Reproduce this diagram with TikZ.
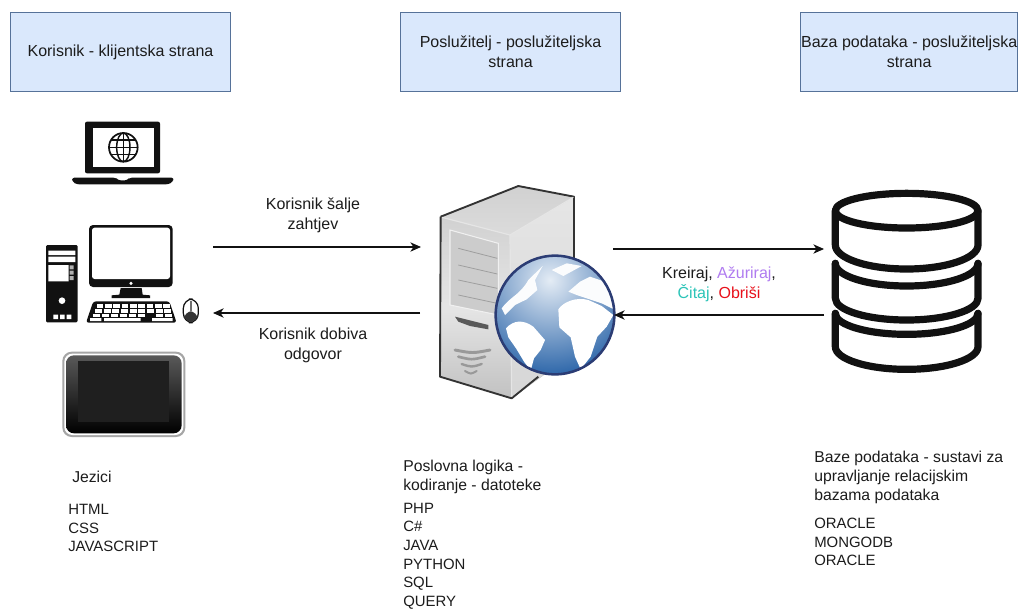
\documentclass[tikz,border=0pt]{standalone}
\usepackage{fontspec}
\setmainfont{Liberation Sans}
\usetikzlibrary{arrows.meta,shapes.geometric}
\definecolor{boxfill}{HTML}{DAE8FC}
\definecolor{boxline}{HTML}{6C8EBF}
\definecolor{txt}{HTML}{1C1C1C}
\definecolor{ink}{HTML}{111111}
\definecolor{kpurple}{HTML}{B07CF0}
\definecolor{kteal}{HTML}{2CC4B8}
\definecolor{kred}{HTML}{E8101A}
\definecolor{globelight}{HTML}{E4ECF5}
\definecolor{globedark}{HTML}{2A64A8}
\definecolor{globerim}{HTML}{2B3C74}
\tikzset{
  header/.style={draw=boxline!80!black,fill=boxfill,line width=.75pt,minimum width=165pt,minimum height=59.5pt,inner sep=0pt,align=center,text=txt,font=\fontsize{12}{15}\selectfont,anchor=north west},
  label/.style={align=center,text=txt,font=\fontsize{12}{15}\selectfont,inner sep=0pt},
  listing/.style={align=left,text=txt,font=\fontsize{11.8}{14.3}\selectfont,inner sep=0pt,anchor=west},
  capslist/.style={align=left,text=txt,font=\fontsize{11.2}{14}\selectfont,inner sep=0pt,anchor=west},
  flow/.style={draw=ink,line width=.85pt,-{Stealth[length=8pt,width=7pt,inset=2.4pt]}},
  dbline/.style={draw=ink,line width=5.4pt,line cap=round,line join=round},
  wpx/.style={x=.25pt,y=-.25pt}
}
\begin{document}
\begin{tikzpicture}[x=.75pt,y=-.75pt]
\useasboundingbox (0,0) rectangle (1021,608);
\fill[white] (0,0) rectangle (1021,608);
% headers
\node[header] (h1) at (10,12) {Korisnik - klijentska strana};
\node[header] (h2) at (400,12) {Poslužitelj - poslužiteljska\\strana};
\node[header,minimum width=163pt] (h3) at (800,12) {Baza podataka - poslužiteljska\\strana};

% laptop (reference zoom coordinates)
\begin{scope}[shift={(30,110)},wpx]
 \fill[ink,rounded corners=1.5pt] (165,35) rectangle (390,190);
 \fill[white] (188,55) rectangle (372,170);
 \draw[ink,line width=1.3pt] (280,112) circle[radius=43];
 \draw[ink,line width=1.1pt] (280,112) ellipse[x radius=20,y radius=43];
 \draw[ink,line width=1.1pt] (237,112) -- (323,112) (243,90) -- (317,90) (243,134) -- (317,134) (280,69) -- (280,155);
 \fill[ink,rounded corners=2pt] (125,203) -- (258,203) -- (264,211) -- (292,211) -- (298,203) -- (432,203) -- (428,216) -- (415,223) -- (140,223) -- (128,216) -- cycle;
 % monitor
 \fill[ink,rounded corners=3pt] (177,345) rectangle (428,531);
 \fill[white,rounded corners=2pt] (186,353) rectangle (420,507);
 \fill[white] (303,520) circle[radius=5];
 \fill[ink] (272,534) -- (335,534) -- (338,554) -- (360,556) -- (360,564) -- (245,564) -- (245,556) -- (268,554) -- cycle;
 % tower
 \fill[ink,rounded corners=1pt] (48,405) rectangle (143,637);
 \fill[white] (55,422) rectangle (136,435) (55,440) rectangle (136,456) (55,465) rectangle (116,514);
 \fill[white!70!black] (119,466) rectangle (131,478) (119,482) rectangle (131,494) (119,498) rectangle (131,510);
 \fill[white] (96,572) circle[radius=10];
 \fill[white] (70,614) rectangle (84,627) (90,614) rectangle (104,627) (110,614) rectangle (124,627);
 % keyboard
 \fill[ink,rounded corners=2pt] (190,574) -- (418,574) -- (440,638) -- (168,638) -- cycle;
 \foreach \xa in {0,...,8}{\fill[white] ({200+\xa*25},581) rectangle ++(20,12);}
 \foreach \xa in {0,...,8}{\fill[white] ({195+\xa*26},598) rectangle ++(21,10);}
 \foreach \xa in {0,...,8}{\ifnum\xa=6 \else\fill[white] ({188+\xa*27},612) rectangle ++(22,8);\fi}
 \fill[white] (180,624) rectangle (214,633) (222,624) rectangle (332,633) (366,624) rectangle (428,633);
 % mouse
 \fill[white,draw=ink,line width=.9pt,rounded corners=7pt] (460,567) rectangle (505,638);
 \fill[ink!85,rounded corners=6pt] (462,604) -- (503,604) -- (503,636) -- (462,636) -- cycle;
 \fill[ink!60] (479,574) rectangle (486,604);
 % tablet
 \fill[white!65!black,rounded corners=7pt] (97,725) rectangle (466,981);
 \fill[white,rounded corners=6pt] (103,731) rectangle (460,975);
 \shade[top color=black!65,bottom color=black,rounded corners=6pt] (108,736) rectangle (455,970);
 \fill[black!88] (145,752) rectangle (417,937);
\end{scope}

% server
\begin{scope}[shift={(420,180)},wpx]
 \fill[black!22] (62,110) -- (295,18) -- (462,50) -- (462,520) -- (275,655) -- (60,590) -- cycle;
 \shade[top color=black!10,bottom color=black!16] (270,165) -- (462,52) -- (462,520) -- (275,652) -- cycle;
 \shade[top color=black!18,bottom color=black!14] (65,112) -- (295,22) -- (458,52) -- (270,165) -- cycle;
 \shade[top color=black!18,bottom color=black!24,middle color=black!10] (65,112) -- (270,165) -- (275,652) -- (62,588) -- cycle;
 \draw[black!80,line width=1.4pt,line join=round] (62,110) -- (295,18) -- (462,50) -- (462,300) (355,590) -- (275,655) -- (60,590) -- (62,110);
 \draw[white!90!black,line width=.9pt] (66,112) -- (270,165) -- (275,650) (270,165) -- (460,52);
 \fill[black!20] (90,150) -- (235,190) -- (235,405) -- (90,375) -- cycle;
 \draw[black!6,line width=.8pt] (90,150) -- (235,190) -- (235,405) -- (90,375) -- cycle;
 \draw[black!38,line width=.6pt] (115,205) -- (232,235) (115,255) -- (232,282) (115,300) -- (232,325) (115,345) -- (232,370);
 \fill[black!65] (105,410) -- (205,435) -- (205,448) -- (150,438) -- (115,425) -- cycle;
 \foreach \ya/\xa/\xb/\w in {510/105/210/2.2,530/115/195/2,552/125/185/1.8,573/135/170/1.5}{\draw[black!40,line width=\w pt,line cap=round] (\xa,\ya) .. controls ({(\xa+\xb)/2},{\ya+10}) .. (\xb,\ya);}
 % globe
 \begin{scope}
  \clip (405,405) circle[radius=176];
  \shade[inner color=globelight,outer color=globedark] (390,300) circle[radius=290];
  \fill[white!85!globelight] (245,385) .. controls (270,350) and (300,345) .. (325,300) -- (368,258) -- (345,300) -- (352,330) -- (320,358) -- (285,375) -- (255,405) -- cycle;
  \fill[white!85!globelight] (395,270) -- (440,250) -- (485,258) -- (430,288) -- cycle;
  \fill[white!85!globelight] (445,335) -- (480,305) -- (510,290) -- (555,305) -- (590,350) -- (590,392) -- (545,370) -- (500,355) -- (470,345) -- cycle;
  \fill[white] (258,445) .. controls (280,420) and (310,418) .. (340,440) -- (375,480) -- (362,510) -- (342,535) -- (332,572) -- (312,545) -- (288,505) -- (265,472) -- cycle;
  \fill[white] (415,388) .. controls (430,365) and (470,350) .. (505,360) -- (545,378) -- (580,405) -- (560,440) -- (532,470) -- (512,530) -- (482,568) -- (465,530) -- (452,472) -- (418,442) -- cycle;
 \end{scope}
 \draw[globerim,line width=1.9pt] (405,405) circle[radius=178];
\end{scope}

% database
\begin{scope}[shift={(780,180)},wpx]
 \draw[dbline] (380,92) ellipse[x radius=214,y radius=52];
 \draw[dbline] (166,92) -- (166,195) arc[start angle=180,end angle=0,x radius=214,y radius=72] -- (594,92);
 \draw[dbline] (166,250) arc[start angle=180,end angle=0,x radius=214,y radius=68];
 \draw[dbline] (166,250) -- (166,355) arc[start angle=180,end angle=0,x radius=214,y radius=65] -- (594,250);
 \draw[dbline] (166,400) arc[start angle=180,end angle=0,x radius=214,y radius=63];
 \draw[dbline] (166,400) -- (166,500) arc[start angle=180,end angle=0,x radius=214,y radius=68] -- (594,400);
\end{scope}

% arrows
\coordinate (u1) at (213,247); \coordinate (s1) at (421,247);
\coordinate (s2) at (420,313); \coordinate (u2) at (213,313);
\coordinate (s3) at (613,249); \coordinate (d1) at (824,249);
\coordinate (d2) at (824,315); \coordinate (s4) at (614,315);
\draw[flow] (u1) -- (s1);
\draw[flow] (s2) -- (u2);
\draw[flow] (s3) -- (d1);
\draw[flow] (d2) -- (s4);

\node[label] (l1) at (313,215) {Korisnik šalje\\zahtjev};
\node[label] (l2) at (313,345) {Korisnik dobiva\\odgovor};
\node[label] (l3) at (719,284) {Kreiraj, \textcolor{kpurple}{Ažuriraj},\\\textcolor{kteal}{Čitaj}, \textcolor{kred}{Obriši}};

% lists
\node[listing] (t1) at (72,477) {Jezici};
\node[capslist] (t2) at (68,528) {HTML\\CSS\\JAVASCRIPT};
\node[listing] (t3) at (403,477) {Poslovna logika -\\kodiranje - datoteke};
\node[capslist] (t4) at (403,556) {PHP\\C\#\\JAVA\\PYTHON\\SQL\\QUERY};
\node[listing] (t5) at (814,477) {Baze podataka - sustavi za\\upravljanje relacijskim\\bazama podataka};
\node[capslist] (t6) at (814,542) {ORACLE\\MONGODB\\ORACLE};
\end{tikzpicture}
\end{document}
